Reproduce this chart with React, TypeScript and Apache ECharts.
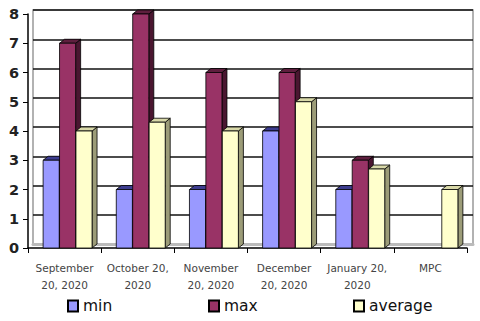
import React, { useEffect, useRef } from "react";
import * as echarts from "echarts";

const categories = [
  "September\n20, 2020",
  "October 20,\n2020",
  "November\n20, 2020",
  "December\n20, 2020",
  "January 20,\n2020",
  "MPC",
];
const minValues: (number | null)[] = [3, 2, 2, 4, 2, null];
const maxValues: (number | null)[] = [7, 8, 6, 6, 3, null];
const avgValues: (number | null)[] = [4, 4.3, 4, 5, 2.7, 2];
const yTicks = [0, 1, 2, 3, 4, 5, 6, 7, 8];

const seriesDefs = [
  { name: "min", values: minValues, front: "#9999FF", side: "#5C5CA8", top: "#3D3D8F", idx: 0 },
  { name: "max", values: maxValues, front: "#993366", side: "#4A1630", top: "#5E1F3E", idx: 1 },
  { name: "average", values: avgValues, front: "#FFFFCC", side: "#9C9C78", top: "#D8D8A8", idx: 2 },
];

export default function App() {
  const ref = useRef<HTMLDivElement>(null);
  useEffect(() => {
    if (!ref.current) return;
    const chart = echarts.init(ref.current, null, { renderer: "svg" });
    const DX = 5;
    const DY = -4;
    const makeRender = (def: any) => (params: any, api: any) => {
      const cat = api.value(0);
      const v = api.value(1);
      const base = api.coord([cat, 0]);
      const top = api.coord([cat, v]);
      const cw = api.size([1, 0])[0];
      const bw = cw * 0.22;
      const cx = base[0] + 3 + (def.idx - 1) * bw * 1.02;
      const x0 = cx - bw / 2;
      const x1 = cx + bw / 2;
      const y0 = base[1];
      const y1 = top[1];
      const line = { stroke: "#000", lineWidth: 0.8 };
      return {
        type: "group",
        children: [
          {
            type: "polygon",
            shape: { points: [[x1, y1], [x1 + DX, y1 + DY], [x1 + DX, y0 + DY], [x1, y0]] },
            style: { fill: def.side, ...line },
          },
          {
            type: "polygon",
            shape: { points: [[x0, y1], [x0 + DX, y1 + DY], [x1 + DX, y1 + DY], [x1, y1]] },
            style: { fill: def.top, ...line },
          },
          {
            type: "rect",
            shape: { x: x0, y: y1, width: bw, height: y0 - y1 },
            style: { fill: def.front, ...line },
          },
        ],
      };
    };
    const series: any[] = seriesDefs.map((def) => ({
      type: "custom",
      name: def.name,
      xAxisIndex: 0,
      yAxisIndex: 0,
      itemStyle: { color: def.front, borderColor: "#000", borderWidth: 1 },
      data: def.values
        .map((v, i) => (v === null ? null : [i, v]))
        .filter((d) => d !== null),
      renderItem: makeRender(def),
      z: 5,
    }));
    const legendPos = [62, 203, 348];
    chart.setOption({
      animation: false,
      backgroundColor: "#fff",
      grid: [
        { left: 28, right: 13, top: 14, bottom: 73 },
        { left: 33, right: 7, top: 10, bottom: 77, show: true, borderColor: "#999", borderWidth: 1.5, backgroundColor: "#fff" },
      ],
      legend: seriesDefs.map((d, i) => ({
        data: [d.name],
        left: legendPos[i],
        top: 293,
        icon: "rect",
        itemWidth: 10,
        itemHeight: 11,
        itemGap: 5,
        textStyle: { fontFamily: "DejaVu Sans", fontSize: 15.5, color: "#111" },
      })),
      xAxis: [
        {
          type: "category",
          gridIndex: 0,
          data: categories,
          axisLine: { lineStyle: { color: "#000", width: 1.5 } },
          axisTick: { show: true, length: 5, lineStyle: { color: "#000" } },
          axisLabel: {
            interval: 0,
            fontFamily: "DejaVu Sans",
            fontSize: 10.5,
            color: "#444",
            lineHeight: 17,
            margin: 11,
          },
        },
        {
          type: "category",
          gridIndex: 1,
          data: categories,
          show: true,
          axisLine: { show: true, lineStyle: { color: "#bbb", width: 3 } },
          axisTick: { show: false },
          axisLabel: { show: false },
        },
      ],
      yAxis: [
        {
          type: "value",
          gridIndex: 0,
          min: 0,
          max: 8,
          interval: 1,
          axisLine: { show: true, lineStyle: { color: "#000", width: 1.5 } },
          axisTick: { show: true, length: 5, lineStyle: { color: "#000" } },
          splitLine: { show: false },
          axisLabel: {
            fontFamily: "DejaVu Sans",
            fontSize: 14.5,
            fontWeight: "bold",
            color: "#222",
            margin: 9,
            formatter: (v: number) => (yTicks.includes(v) ? String(v) : ""),
          },
        },
        {
          type: "value",
          gridIndex: 1,
          min: 0,
          max: 8,
          interval: 1,
          axisLine: { show: false },
          axisTick: { show: false },
          axisLabel: { show: false },
          splitLine: { show: true, lineStyle: { color: "#111", width: 1.5 } },
        },
      ],
      series,
    });
    return () => chart.dispose();
  }, []);
  return <div ref={ref} style={{ width: 480, height: 321, position: "absolute", left: 0, top: 0 }} />;
}
